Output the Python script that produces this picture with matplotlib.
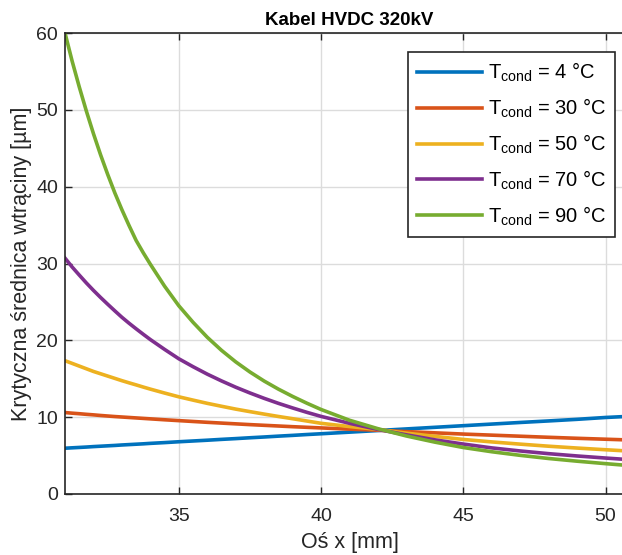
import numpy as np
import matplotlib
matplotlib.use("Agg")
from matplotlib import pyplot as plt

plt.rcParams['font.family'] = ['Liberation Sans', 'DejaVu Sans']
plt.rcParams['mathtext.fontset'] = 'custom'
plt.rcParams['mathtext.rm'] = 'Liberation Sans'

x_mm = [31, 31.25, 31.5, 31.75, 32, 32.25, 32.5, 32.75, 33, 33.25, 33.5, 33.75, 34,
        34.5, 35, 35.5, 36, 36.5, 37, 37.5, 38, 38.5, 39, 39.5, 40,
        41, 42, 43, 44, 45, 46, 47, 48, 49, 50, 51]

d_4 = [5.96, 6.01, 6.06, 6.11, 6.17, 6.22, 6.27, 6.32, 6.38, 6.43, 6.48, 6.53, 6.59,
       6.69, 6.80, 6.90, 7.00, 7.11, 7.21, 7.32, 7.42, 7.53, 7.63, 7.74, 7.84,
       8.05, 8.26, 8.47, 8.68, 8.89, 9.10, 9.31, 9.51, 9.72, 9.96, 10.14]
d_30 = [10.6, 10.52, 10.45, 10.37, 10.3, 10.22, 10.15, 10.08, 10.02, 9.96, 9.9, 9.84, 9.78,
        9.66, 9.55, 9.44, 9.33, 9.23, 9.13, 9.03, 8.94, 8.85, 8.76, 8.68, 8.6,
        8.44, 8.3, 8.12, 7.96, 7.8, 7.66, 7.52, 7.38, 7.25, 7.13, 7.01]
d_50 = [17.35, 17.0, 16.65, 16.3, 15.95, 15.65, 15.35, 15.05, 14.75, 14.47, 14.2, 13.92, 13.65,
        13.14, 12.65, 12.22, 11.8, 11.42, 11.05, 10.72, 10.4, 10.09, 9.8, 9.5, 9.2,
        8.78, 8.4, 7.92, 7.5, 7.1, 6.78, 6.49, 6.22, 5.98, 5.76, 5.55]
d_70 = [30.7, 29.55, 28.5, 27.47, 26.5, 25.58, 24.7, 23.84, 23.0, 22.23, 21.5, 20.79, 20.1,
        18.82, 17.6, 16.57, 15.6, 14.72, 13.9, 13.15, 12.45, 11.8, 11.2, 10.63, 10.1,
        9.2, 8.4, 7.7, 7.05, 6.5, 6.0, 5.6, 5.25, 4.95, 4.68, 4.43]
d_90 = [60.0, 56.35, 53.0, 49.85, 46.9, 44.15, 41.6, 39.2, 37.0, 34.95, 33.0, 31.4, 29.9,
        27.05, 24.5, 22.35, 20.4, 18.7, 17.2, 15.88, 14.7, 13.65, 12.7, 11.82, 11.0,
        9.6, 8.5, 7.55, 6.75, 6.05, 5.5, 5.03, 4.62, 4.27, 3.95, 3.65]

temps = [4, 30, 50, 70, 90]
series = [d_4, d_30, d_50, d_70, d_90]
colors = ['#0072BD', '#D95319', '#EDB120', '#7E2F8E', '#77AC30']

fig = plt.figure(figsize=(6.22, 5.55), dpi=100)
ax = fig.add_axes([65/622, 61/555, 569/622, 461/555])

for t, d, c in zip(temps, series, colors):
    ax.plot(x_mm, d, color=c, lw=2.6, solid_joinstyle='round',
            label=r'T$_{\mathrm{cond}}$' + ' = %d °C' % t)

ax.set_xlim(31, 51)
ax.set_ylim(0, 60)
ax.set_xticks([35, 40, 45, 50])
ax.set_yticks(np.arange(0, 61, 10))
ax.grid(True, color='#dcdcdc', lw=1)
ax.set_axisbelow(True)
ax.tick_params(direction='in', length=5, width=1, colors='#262626',
               labelsize=14, top=True, right=True)
ax.tick_params(axis='x', pad=10)
ax.tick_params(axis='y', pad=5)
for s in ax.spines.values():
    s.set_color('#262626')
    s.set_linewidth(1.2)

ax.set_title('Kabel HVDC 320kV', fontsize=13.5, fontweight='bold', pad=6)
ax.set_xlabel('Oś x [mm]', fontsize=15.5, color='#262626', labelpad=5)
ax.set_ylabel('Krytyczna średnica wtrąciny [µm]', fontsize=15.5, color='#262626', labelpad=3)

leg = ax.legend(loc='upper left', bbox_to_anchor=(408/622, 1 - 52/555),
                bbox_transform=fig.transFigure, borderaxespad=0,
                fontsize=14.5, handlelength=3.2, labelspacing=0.62,
                handletextpad=0.3, borderpad=0.45, fancybox=False, framealpha=1)
leg.get_frame().set_edgecolor('#262626')
leg.get_frame().set_linewidth(1.2)

fig.savefig('out.png', dpi=100)
